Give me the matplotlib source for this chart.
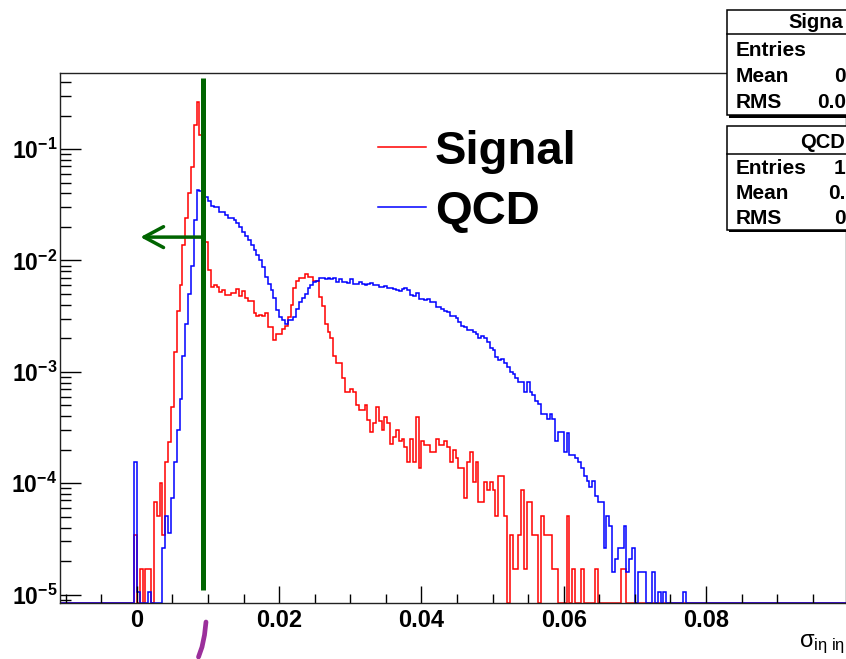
import numpy as np
import matplotlib
matplotlib.use('Agg')
import matplotlib.pyplot as plt
from matplotlib.lines import Line2D
from matplotlib.patches import Rectangle
from matplotlib.ticker import LogLocator, MultipleLocator, NullFormatter

plt.rcParams['font.family'] = ['Liberation Sans', 'DejaVu Sans']
plt.rcParams['mathtext.fontset'] = 'custom'
plt.rcParams['mathtext.rm'] = 'Liberation Sans'
plt.rcParams['mathtext.it'] = 'Liberation Sans'
plt.rcParams['mathtext.bf'] = 'Liberation Sans:bold'

# binning of sigma_ietaieta histograms
X_MIN = -0.0108
BIN_W = 0.0004
N_BINS = 276
FIRST_BIN_X = -0.0004   # lower edge of the first listed bin

# normalised bin contents, starting at FIRST_BIN_X
signal = [
    3.4e-5, 0, 1.7e-5, 0, 1.7e-5, 1.7e-5, 0, 6.8e-5, 5.1e-5, 1.0e-4,
    3.4e-5, 1.55e-4, 2.35e-4, 4.8e-4, 1.5e-3, 3.5e-3, 6.0e-3, 1.37e-2, 2.4e-2, 4.0e-2,
    6.9e-2, 0.164, 0.266, 0.134, 0.134, 1.47e-2, 8.2e-3, 5.8e-3, 6.0e-3, 5.8e-3,
    5.2e-3, 5.4e-3, 4.9e-3, 4.9e-3, 5.1e-3, 5.1e-3, 5.5e-3, 4.8e-3, 5.3e-3, 4.6e-3,
    4.35e-3, 4.3e-3, 3.4e-3, 3.2e-3, 3.25e-3, 3.15e-3, 3.35e-3, 2.54e-3, 2.54e-3, 1.93e-3,
    2.2e-3, 2.2e-3, 2.4e-3, 2.6e-3, 3.1e-3, 4.0e-3, 5.6e-3, 6.6e-3, 6.9e-3, 6.9e-3,
    7.6e-3, 7.1e-3, 7.1e-3, 6.6e-3, 6.5e-3, 4.7e-3, 3.9e-3, 2.7e-3, 2.3e-3, 2.0e-3,
    1.38e-3, 1.19e-3, 1.19e-3, 8.8e-4, 6.6e-4, 6.6e-4, 7.0e-4, 6.6e-4, 5.0e-4, 4.5e-4,
    4.5e-4, 5.0e-4, 3.7e-4, 2.9e-4, 3.5e-4, 4.8e-4, 3.6e-4, 3.0e-4, 3.9e-4, 3.5e-4,
    2.26e-4, 2.6e-4, 3.0e-4, 2.4e-4, 2.5e-4, 2.1e-4, 1.55e-4, 2.5e-4, 1.55e-4, 3.9e-4,
    1.37e-4, 2.4e-4, 2.2e-4, 2.2e-4, 1.9e-4, 1.9e-4, 2.5e-4, 2.2e-4, 2.2e-4, 2.4e-4,
    2.1e-4, 1.55e-4, 2.0e-4, 1.7e-4, 1.37e-4, 1.37e-4, 7.3e-5, 1.55e-4, 1.9e-4, 1.03e-4,
    1.55e-4, 6.8e-5, 6.8e-5, 1.03e-4, 8.6e-5, 1.03e-4, 8.6e-5, 5.1e-5, 1.17e-4, 1.17e-4,
    5.1e-5, 0, 3.4e-5, 1.7e-5, 1.7e-5, 3.4e-5, 8.6e-5, 1.7e-5, 6.8e-5, 6.8e-5,
    3.4e-5, 3.4e-5, 0, 5.1e-5, 3.4e-5, 3.4e-5, 3.4e-5, 1.7e-5, 1.7e-5, 0,
    0, 0, 5.1e-5, 0, 1.7e-5, 0, 0, 1.7e-5, 0, 0,
    0, 0, 1.7e-5, 0, 0, 0, 0, 0, 0, 0,
    0, 1.7e-5, 1.7e-5,
]

qcd = [
    1.55e-4, 1.05e-5, 0, 0, 0, 1.05e-5, 0, 0, 0, 0,
    2.6e-5, 5.1e-5, 3.6e-5, 7.3e-5, 1.55e-4, 3.0e-4, 5.7e-4, 1.4e-3, 2.7e-3, 5.0e-3,
    8.9e-3, 2.3e-2, 4.3e-2, 4.2e-2, 4.0e-2, 3.7e-2, 3.4e-2, 3.1e-2, 3.0e-2, 3.0e-2,
    2.74e-2, 2.74e-2, 2.55e-2, 2.4e-2, 2.4e-2, 2.3e-2, 2.15e-2, 2.0e-2, 1.8e-2, 1.65e-2,
    1.52e-2, 1.37e-2, 1.24e-2, 1.12e-2, 1.01e-2, 8.8e-3, 7.1e-3, 6.2e-3, 5.4e-3, 4.6e-3,
    3.6e-3, 3.1e-3, 2.9e-3, 2.7e-3, 2.9e-3, 2.9e-3, 3.1e-3, 3.7e-3, 4.2e-3, 4.6e-3,
    5.0e-3, 5.6e-3, 6.0e-3, 6.4e-3, 6.6e-3, 7.0e-3, 6.9e-3, 6.75e-3, 6.9e-3, 6.75e-3,
    6.9e-3, 6.4e-3, 6.75e-3, 6.4e-3, 6.4e-3, 6.3e-3, 6.75e-3, 6.2e-3, 6.15e-3, 6.4e-3,
    6.15e-3, 6.0e-3, 6.1e-3, 6.3e-3, 6.0e-3, 6.0e-3, 5.75e-3, 5.75e-3, 5.9e-3, 5.7e-3,
    5.7e-3, 5.5e-3, 5.4e-3, 5.3e-3, 5.5e-3, 5.7e-3, 5.45e-3, 4.9e-3, 4.8e-3, 5.1e-3,
    4.5e-3, 4.5e-3, 4.45e-3, 4.5e-3, 4.2e-3, 4.2e-3, 3.85e-3, 3.85e-3, 3.7e-3, 3.5e-3,
    3.45e-3, 3.15e-3, 3.15e-3, 3.05e-3, 2.8e-3, 2.6e-3, 2.5e-3, 2.37e-3, 2.37e-3, 2.3e-3,
    2.2e-3, 2.0e-3, 2.1e-3, 2.0e-3, 1.85e-3, 1.65e-3, 1.56e-3, 1.35e-3, 1.27e-3, 1.3e-3,
    1.2e-3, 1.1e-3, 1.0e-3, 9.6e-4, 8.8e-4, 8.1e-4, 8.1e-4, 6.6e-4, 8.1e-4, 6.6e-4,
    6.2e-4, 5.5e-4, 5.1e-4, 4.2e-4, 4.2e-4, 3.8e-4, 4.2e-4, 3.8e-4, 2.4e-4, 2.9e-4,
    2.9e-4, 1.9e-4, 2.8e-4, 1.8e-4, 1.8e-4, 1.7e-4, 1.55e-4, 1.37e-4, 1.17e-4, 1.05e-4,
    9.2e-5, 1.05e-4, 7.6e-5, 6.8e-5, 6.8e-5, 2.6e-5, 5.1e-5, 4.1e-5, 1.6e-5, 2.1e-5,
    2.6e-5, 2.6e-5, 4.1e-5, 1.6e-5, 2.1e-5, 2.6e-5, 0, 1.6e-5, 1.6e-5, 1.6e-5,
    0, 0, 1.6e-5, 0, 1.05e-5, 0, 1.05e-5, 0, 0, 0,
    0, 0, 0, 1.05e-5,
]

CUT = 0.0093
Y_MIN, Y_MAX = 8.4e-6, 0.487

x_ticks = [0, 0.02, 0.04, 0.06, 0.08]
x_ticklabels = ['0', '0.02', '0.04', '0.06', '0.08']
y_ticks = [1e-5, 1e-4, 1e-3, 1e-2, 1e-1]
y_ticklabels = [r'$\mathbf{10^{-5}}$', r'$\mathbf{10^{-4}}$', r'$\mathbf{10^{-3}}$',
                r'$\mathbf{10^{-2}}$', r'$\mathbf{10^{-1}}$']

# visible part of the (cropped) statistics boxes
sig_stats = [('Entries', '', 0, 56.5), ('Mean', '0', 834, 82.5), ('RMS', '0.0', 817, 108.5)]
qcd_stats = [('Entries', '1', 834, 173.5), ('Mean', '0.', 828, 199), ('RMS', '0', 834, 224.5)]


def fill_bins(values):
    counts = np.zeros(N_BINS)
    start = int(round((FIRST_BIN_X - X_MIN) / BIN_W))
    counts[start:start + len(values)] = values
    # ROOT draws empty bins on the bottom of a log frame
    return np.where(counts > 0, counts, Y_MIN)


W, H = 846, 659
fig = plt.figure(figsize=(W / 100, H / 100), dpi=100)
ax = fig.add_axes([60 / W, 56 / H, 785.5 / W, 530.5 / H])

edges = X_MIN + BIN_W * np.arange(N_BINS + 1)
ax.stairs(fill_bins(signal), edges, baseline=None, color='#ff0000', lw=1.1)
ax.stairs(fill_bins(qcd), edges, baseline=None, color='#0000ff', lw=1.1)

ax.set_yscale('log')
ax.set_xlim(X_MIN, 0.0996)
ax.set_ylim(Y_MIN, Y_MAX)

ax.set_xticks(x_ticks)
ax.set_xticklabels(x_ticklabels, fontweight='bold')
ax.xaxis.set_minor_locator(MultipleLocator(0.005))
ax.set_yticks(y_ticks)
ax.set_yticklabels(y_ticklabels)
ax.yaxis.set_minor_locator(LogLocator(base=10, subs=np.arange(2, 10)))
ax.yaxis.set_minor_formatter(NullFormatter())
ax.tick_params(axis='x', which='major', direction='in', length=12.5, width=1, pad=4, labelsize=17)
ax.tick_params(axis='x', which='minor', direction='in', length=6.5, width=1)
ax.tick_params(axis='y', which='major', direction='in', length=15, width=1, pad=2, labelsize=16.5)
ax.tick_params(axis='y', which='minor', direction='in', length=8, width=1)
for sp in ax.spines.values():
    sp.set_linewidth(1.0)
    sp.set_color('#222222')

# cut line and arrow
ax.plot([CUT, CUT], [1.09e-5, 0.435], color='#006400', lw=3.6, solid_capstyle='butt', zorder=5)
ax.annotate('', xy=(0.0005, 0.0162), xytext=(CUT, 0.0162),
            arrowprops=dict(arrowstyle='->,head_length=1.4,head_width=0.75',
                            color='#006400', lw=2.5, shrinkA=0, shrinkB=0), zorder=5)

ax.legend(handles=[Line2D([], [], color='#ff0000', lw=1.1),
                   Line2D([], [], color='#0000ff', lw=1.1)],
          labels=['Signal', 'QCD'],
          loc='upper left', bbox_to_anchor=(378 / W, 1 - 130 / H),
          bbox_transform=fig.transFigure, frameon=False, borderpad=0, borderaxespad=0,
          handlelength=1.02, handletextpad=0.19, labelspacing=0.33,
          prop={'size': 34, 'weight': 'bold'})

# x axis title, right aligned at the frame end
fig.text(845 / W, 1 - 647 / H, r'$\sigma_{i\eta\ i\eta}$', ha='right', va='baseline', fontsize=17)


def px_rect(x, y, w, h, **kw):
    return Rectangle((x / W, 1 - (y + h) / H), w / W, h / H, transform=fig.transFigure, **kw)


def stat_box(top, bottom, sep, title, title_x, rows):
    left = 726.5
    fig.add_artist(px_rect(left + 2.5, top + 2.5, 200, bottom - top, facecolor='black',
                           edgecolor='none', zorder=10))
    fig.add_artist(px_rect(left, top, 200, bottom - top, facecolor='white',
                           edgecolor='black', lw=1.1, zorder=11))
    fig.add_artist(Line2D([left / W, 1], [1 - sep / H, 1 - sep / H], color='black',
                          lw=1.1, transform=fig.transFigure, zorder=12))
    fig.text(title_x / W, 1 - (sep - 5.5) / H, title, fontsize=14.5, fontweight='bold',
             va='baseline', zorder=13)
    for name, value, val_x, base in rows:
        fig.text(736 / W, 1 - base / H, name, fontsize=15, fontweight='bold', va='baseline', zorder=13)
        if value:
            fig.text(val_x / W, 1 - base / H, value, fontsize=15, fontweight='bold',
                     va='baseline', zorder=13)


stat_box(9.5, 115, 33.5, 'Signa', 788, sig_stats)
stat_box(126, 230, 154, 'QCD', 800, qcd_stats)

# hand-drawn mark below the cut
fig.add_artist(Line2D(np.array([206, 204.5, 202, 198.5]) / W, 1 - np.array([622, 635, 647, 657]) / H,
                      color='#9b2f9b', lw=3.4, solid_capstyle='round', transform=fig.transFigure))

fig.savefig('out.png', dpi=100)
